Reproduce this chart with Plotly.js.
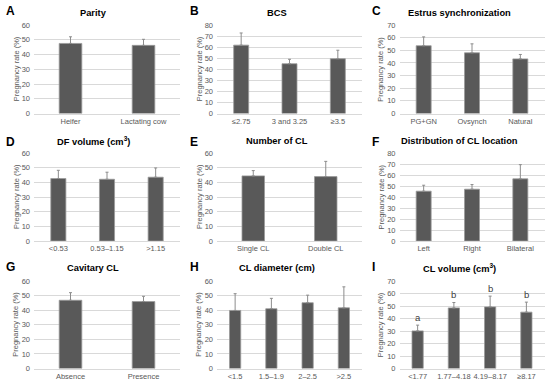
<!DOCTYPE html>
<html><head><meta charset="utf-8">
<script src="https://cdn.plot.ly/plotly-3.0.1.min.js"></script>
<style>html,body{margin:0;padding:0;background:#fff;}#chart{width:550px;height:386px;}</style>
</head><body><div id="chart"></div>
<script>
// ---- Data ----
const parityCats = ['Heifer', 'Lactating cow'];
const parityVals = [47.5, 46.2];
const parityErr  = [4.5, 4.1];

const bcsCats = ['≤2.75', '3 and 3.25', '≥3.5'];
const bcsVals = [61.8, 45.0, 49.5];
const bcsErr  = [11.0, 4.0, 7.7];

const estrusCats = ['PG+GN', 'Ovsynch', 'Natural'];
const estrusVals = [53.6, 48.0, 43.2];
const estrusErr  = [7.0, 7.1, 3.5];

const dfCats = ['<0.53', '0.53–1.15', '>1.15'];
const dfVals = [42.6, 42.1, 43.5];
const dfErr  = [5.6, 4.8, 6.3];

const nclCats = ['Single CL', 'Double CL'];
const nclVals = [44.4, 43.9];
const nclErr  = [3.6, 10.4];

const locCats = ['Left', 'Right', 'Bilateral'];
const locVals = [45.3, 47.1, 56.5];
const locErr  = [5.4, 4.2, 12.9];

const cavCats = ['Absence', 'Presence'];
const cavVals = [46.8, 45.9];
const cavErr  = [5.2, 3.6];

const diamCats = ['<1.5', '1.5–1.9', '2–2.5', '>2.5'];
const diamVals = [39.8, 41.0, 45.1, 41.6];
const diamErr  = [11.5, 7.1, 5.2, 14.4];

const volCats = ['<1.77', '1.77–4.18', '4.19–8.17', '≥8.17'];
const volVals = [30.1, 48.5, 49.3, 45.1];
const volErr  = [4.6, 4.3, 8.6, 8.0];
const volLetters = ['a', 'b', 'b', 'b'];

const panelLetters = ['A','B','C','D','E','F','G','H','I'];
const panelTitles = ['Parity', 'BCS', 'Estrus synchronization',
  'DF volume (cm<sup>3</sup>)', 'Number of CL', 'Distribution of CL location',
  'Cavitary CL', 'CL diameter (cm)', 'CL volume (cm<sup>3</sup>)'];
const yMax = [60, 80, 70, 60, 60, 80, 60, 60, 70];
const yTitle = 'Pregnancy rate (%)';

// ---- Layout geometry (pixels) ----
const W = 550, H = 386;
const colX = [[34, 180], [217, 362], [399.5, 544.5]];
const rowY = [[25, 113.5], [153, 241], [281, 368.5]];
const titleCX = [93, 277, 459];
const titleCY = [12.5, 141, 267.5];
const letterX = [4, 188, 370];
const letterCY = [11.5, 141.5, 266.5];
const yTitleX = [16, 199, 380.5];

const panels = [
  [parityCats, parityVals, parityErr], [bcsCats, bcsVals, bcsErr], [estrusCats, estrusVals, estrusErr],
  [dfCats, dfVals, dfErr], [nclCats, nclVals, nclErr], [locCats, locVals, locErr],
  [cavCats, cavVals, cavErr], [diamCats, diamVals, diamErr], [volCats, volVals, volErr]
];

const font = 'Liberation Sans, Arial, sans-serif';
const data = [];
const layout = {
  width: W, height: H, margin: {l: 0, r: 0, t: 0, b: 0},
  paper_bgcolor: '#fff', plot_bgcolor: '#fff', showlegend: false,
  font: {family: font, color: '#595959', size: 7.5},
  annotations: []
};

panels.forEach((p, i) => {
  const [cats, vals, err] = p;
  const r = Math.floor(i / 3), c = i % 3;
  const sfx = i === 0 ? '' : String(i + 1);
  data.push({
    type: 'bar', x: cats, y: vals, width: 0.31,
    xaxis: 'x' + sfx, yaxis: 'y' + sfx,
    marker: {color: '#595959', line: {color: '#9a9a9a', width: 0.8}},
    error_y: {type: 'data', symmetric: false, array: err, arrayminus: err.map(() => 0),
              color: '#8c8c8c', thickness: 1, width: 1.5},
    hoverinfo: 'skip'
  });
  layout['xaxis' + sfx] = {
    domain: [colX[c][0] / W, colX[c][1] / W], anchor: 'y' + sfx,
    type: 'category', range: [-0.5, cats.length - 0.5], fixedrange: true,
    showgrid: false, zeroline: false, showline: true, linecolor: '#d9d9d9', linewidth: 1,
    ticks: '', tickfont: {family: font, size: 7.5, color: '#595959'}, tickangle: 0
  };
  layout['yaxis' + sfx] = {
    domain: [(H - rowY[r][1]) / H, (H - rowY[r][0]) / H], anchor: 'x' + sfx,
    range: [0, yMax[i]], dtick: 10, tick0: 0, fixedrange: true,
    showgrid: true, gridcolor: '#d9d9d9', gridwidth: 1, zeroline: false, showline: false,
    ticks: '', ticklabelstandoff: 3, tickfont: {family: font, size: 7.5, color: '#595959'}
  };
  layout.annotations.push({
    xref: 'paper', yref: 'paper', x: letterX[c] / W, y: (H - letterCY[r]) / H,
    xanchor: 'left', yanchor: 'middle', showarrow: false,
    text: '<b>' + panelLetters[i] + '</b>', font: {family: font, size: 12, color: '#000'}
  });
  layout.annotations.push({
    xref: 'paper', yref: 'paper', x: titleCX[c] / W, y: (H - titleCY[r]) / H,
    xanchor: 'center', yanchor: 'middle', showarrow: false,
    text: '<b>' + panelTitles[i] + '</b>', font: {family: font, size: 9.3, color: '#000'}
  });
  layout.annotations.push({
    xref: 'paper', yref: 'paper', x: yTitleX[c] / W, y: (H - (rowY[r][0] + rowY[r][1]) / 2) / H,
    xanchor: 'center', yanchor: 'middle', showarrow: false, textangle: -90,
    text: yTitle, font: {family: font, size: 7.5, color: '#595959'}
  });
});

// significance letters in panel I
volCats.forEach((cat, k) => {
  layout.annotations.push({
    xref: 'x9', yref: 'y9', x: cat, y: volVals[k] + volErr[k],
    xanchor: 'center', yanchor: 'bottom', yshift: 0, showarrow: false,
    text: volLetters[k], font: {family: font, size: 9.5, color: '#404040'}
  });
});

Plotly.newPlot('chart', data, layout, {staticPlot: true, displayModeBar: false});
</script>
</body></html>
